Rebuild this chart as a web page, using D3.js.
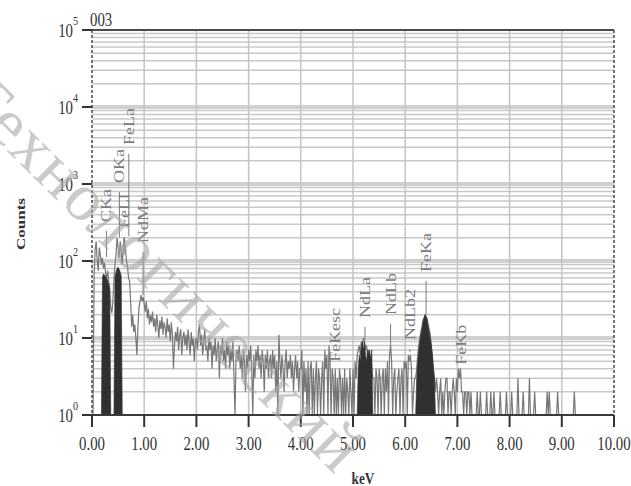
<!DOCTYPE html>
<html>
<head>
<meta charset="utf-8">
<script src="https://cdn.jsdelivr.net/npm/d3@7"></script>
<style>
  body { margin: 0; background: #fff; }
  svg text { font-family: "Liberation Serif", "Times New Roman", serif; }
</style>
</head>
<body>
<script>
// EDS spectrum, sample 003 -- counts per 0.02 keV channel, starting at 0 keV
var channelWidth = 0.02;
var spectrumCounts = [
  0,0,60,140,180,100,75,150,120,90,
  110,80,95,70,60,75,55,40,25,21,
  30,55,90,120,200,150,110,180,130,90,
  160,200,150,100,85,60,55,30,14,20,
  12,15,10,6,14,25,30,36,30,34,
  28,22,30,18,24,15,20,16,22,14,
  18,12,20,15,10,17,13,19,11,16,
  14,10,18,12,15,9,16,11,4,8,
  12,9,14,7,11,13,6,10,12,8,
  11,7,13,9,6,12,8,10,5,9,
  10,7,12,15,8,11,6,9,13,7,
  8,5,10,7,9,4,8,6,10,5,
  7,9,3,8,6,10,5,7,4,9,
  6,8,4,7,5,9,3,1,6,7,
  5,8,4,6,3,7,5,2,6,4,
  7,5,8,4,1,6,3,7,5,8,
  4,6,3,7,5,2,6,4,7,3,
  5,6,3,7,4,6,2,5,1,11,
  5,3,6,4,2,5,7,3,5,4,
  6,3,5,2,4,6,3,5,2,4,
  4,7,1,5,2,4,1,5,1,4,
  5,1,4,1,3,5,1,4,3,1,
  3,5,1,7,4,6,1,8,5,1,
  4,3,1,4,1,3,1,4,3,1,
  3,1,4,1,3,2,1,4,2,1,
  4,1,5,3,6,7,8,6,9,8,
  10,9,7,8,6,7,5,6,4,3,
  3,1,4,3,1,4,3,1,3,4,
  1,4,2,5,1,6,8,5,1,3,
  4,1,2,3,4,1,3,4,1,5,
  4,5,1,6,5,6,4,1,2,3,
  3,4,6,8,10,12,14,17,18,20,
  19,18,15,13,11,8,6,4,3,2,
  3,2,1,2,3,1,2,1,2,3,
  3,1,2,2,1,2,3,2,1,3,
  2,4,3,4,2,2,1,2,2,1,
  2,2,1,2,1,1,1,1,1,2,
  1,1,2,1,1,1,1,1,2,1,
  1,1,2,1,1,2,1,1,1,1,
  1,2,1,1,1,1,1,2,1,1,
  1,1,2,1,1,1,1,1,3,1,
  1,1,1,2,1,1,1,1,1,3,
  1,1,1,1,2,1,1,1,1,1,
  1,1,1,1,1,1,2,1,2,1,
  1,1,1,1,1,1,2,1,1,1,
  1,1,1,1,1,1,1,1,1,1,
  1,1,2,1,1
];

// identified peaks (filled dark)
var peakNames = ["CKa", "OKa", "NdLa", "FeKa"];
var peakStarts = [0.18, 0.42, 5.08, 6.20];
var peakCounts = [
  [1, 62, 68, 66, 63, 60, 56, 50, 44, 1],
  [1, 62, 72, 80, 83, 78, 72, 64, 1],
  [1, 4, 6, 5, 8, 9, 7, 9, 6, 5, 7, 6, 7, 5, 7, 1],
  [1, 3, 5, 7, 9, 11, 13, 16, 18, 20, 19, 17, 14, 12, 10, 8, 6, 4, 3, 1]
];

// line markers: name, energy (keV), count at label foot, count at marker end
var lineNames    = ["CKa", "OKa", "FeLa", "FeLl", "NdMa", "FeKesc", "NdLa", "NdLb", "NdLb2", "FeKa", "FeKb"];
var lineEnergies = [0.277, 0.525, 0.705, 0.615, 0.978, 4.66, 5.23, 5.72, 6.09, 6.40, 7.06];
var lineFoot     = [321, 1030, 3220, 268, 171, 4.9, 18.2, 19.9, 9.4, 72, 4.5];
var lineEnd      = [112, 204, 210, 120, 36, 3.8, 9.4, 7.0, 6.6, 19.9, 3.6];

var xTicks = [0, 1, 2, 3, 4, 5, 6, 7, 8, 9, 10];
var yDecades = [0, 1, 2, 3, 4, 5];
var sampleName = "003";

var width = 631, height = 486;
var mLeft = 92, mRight = 614, mTop = 30, mBottom = 415;
var sx = 0.78; // condensed type

var x = d3.scaleLinear().domain([0, 10]).range([mLeft, mRight]);
var y = d3.scaleLog().domain([1, 1e5]).range([mBottom, mTop]);

var svg = d3.select("body").append("svg")
  .attr("width", width).attr("height", height);

// horizontal grid: minor lines then decade bands
var minor = [];
yDecades.slice(0, 5).forEach(function(d) {
  for (var m = 2; m <= 9; m++) minor.push(m * Math.pow(10, d));
});
svg.append("g").selectAll("line").data(minor).enter().append("line")
  .attr("x1", mLeft).attr("x2", mRight)
  .attr("y1", function(d) { return y(d); }).attr("y2", function(d) { return y(d); })
  .attr("stroke", "#c8c8c8").attr("stroke-width", 1.5);
svg.append("g").selectAll("line").data(yDecades.slice(1, 5)).enter().append("line")
  .attr("x1", mLeft).attr("x2", mRight)
  .attr("y1", function(d) { return y(Math.pow(10, d)); }).attr("y2", function(d) { return y(Math.pow(10, d)); })
  .attr("stroke", "#d0d0d0").attr("stroke-width", 4);

// vertical grid
svg.append("g").selectAll("line").data(xTicks.slice(1, 10)).enter().append("line")
  .attr("x1", function(d) { return x(d); }).attr("x2", function(d) { return x(d); })
  .attr("y1", mTop).attr("y2", mBottom)
  .attr("stroke", "#c4c4c4").attr("stroke-width", 1.5);

// spectrum trace
var trace = d3.line()
  .x(function(d, i) { return x(i * channelWidth); })
  .y(function(d) { return y(Math.max(1, d)); });
svg.append("path").datum(spectrumCounts)
  .attr("d", trace)
  .attr("fill", "none").attr("stroke", "#777").attr("stroke-width", 1.2);

// filled peaks
peakNames.forEach(function(name, k) {
  var area = d3.area()
    .x(function(d, i) { return x(peakStarts[k] + i * channelWidth); })
    .y0(y(1))
    .y1(function(d) { return y(Math.max(1, d)); });
  svg.append("path").datum(peakCounts[k])
    .attr("class", "peak " + name)
    .attr("d", area).attr("fill", "#303030").attr("stroke", "#303030").attr("stroke-width", 0.6);
});

// line markers and labels
lineNames.forEach(function(name, i) {
  var px = x(lineEnergies[i]);
  svg.append("line")
    .attr("x1", px).attr("x2", px)
    .attr("y1", y(lineFoot[i]) + 9).attr("y2", y(lineEnd[i]))
    .attr("stroke", "#7a7a7a").attr("stroke-width", 1);
  svg.append("text")
    .attr("transform", "translate(" + (px + 5) + "," + y(lineFoot[i]) + ") scale(" + sx + ",1) rotate(-90)")
    .attr("font-size", 18).attr("fill", "#7c7c7c")
    .text(name);
});

// frame
svg.append("line").attr("x1", mLeft).attr("x2", mRight).attr("y1", mTop).attr("y2", mTop)
  .attr("stroke", "#4a4a4a").attr("stroke-width", 2);
svg.append("line").attr("x1", mLeft).attr("x2", mLeft).attr("y1", mTop).attr("y2", mBottom)
  .attr("stroke", "#4a4a4a").attr("stroke-width", 1.5).attr("stroke-dasharray", "3,2");
svg.append("line").attr("x1", mRight).attr("x2", mRight).attr("y1", mTop).attr("y2", mBottom)
  .attr("stroke", "#4a4a4a").attr("stroke-width", 1.5).attr("stroke-dasharray", "3,2");
svg.append("line").attr("x1", mLeft).attr("x2", mRight).attr("y1", mBottom).attr("y2", mBottom)
  .attr("stroke", "#3a3a3a").attr("stroke-width", 2);

// y ticks + labels
var yt = svg.append("g");
yDecades.forEach(function(d) {
  var py = y(Math.pow(10, d));
  yt.append("line").attr("x1", mLeft - 10).attr("x2", mLeft).attr("y1", py).attr("y2", py)
    .attr("stroke", "#333").attr("stroke-width", 2);
  var t = yt.append("text")
    .attr("transform", "translate(78," + (py + 7) + ") scale(" + sx + ",1)")
    .attr("text-anchor", "end").attr("font-size", 19).attr("fill", "#333");
  t.append("tspan").text("10");
  t.append("tspan").attr("dy", -12).attr("font-size", 13).text(d);
});

// x ticks + labels
var xt = svg.append("g");
xTicks.forEach(function(d) {
  var px = x(d);
  xt.append("line").attr("x1", px).attr("x2", px).attr("y1", mBottom).attr("y2", mBottom + 12)
    .attr("stroke", "#333").attr("stroke-width", 2);
  xt.append("text")
    .attr("transform", "translate(" + px + ",450) scale(" + sx + ",1)")
    .attr("text-anchor", "middle").attr("font-size", 19).attr("fill", "#333")
    .text(d3.format(".2f")(d));
});

// titles
svg.append("text").attr("transform", "translate(90,26) scale(" + sx + ",1)")
  .attr("font-size", 19).attr("fill", "#333").text(sampleName);
svg.append("text").attr("transform", "translate(25,224) scale(" + sx + ",1) rotate(-90)")
  .attr("text-anchor", "middle").attr("font-size", 17).attr("font-weight", "bold").attr("fill", "#333")
  .text("Counts");
svg.append("text").attr("transform", "translate(363,484) scale(" + sx + ",1)")
  .attr("text-anchor", "middle").attr("font-size", 17).attr("font-weight", "bold").attr("fill", "#333")
  .text("keV");

// watermark
svg.append("text")
  .attr("transform", "translate(-45,100) rotate(44.6)")
  .attr("font-family", "DejaVu Sans").attr("font-size", 68).attr("letter-spacing", 2)
  .attr("fill", "#a8a8a8").attr("opacity", 0.6)
  .text("Технологический");
</script>
</body>
</html>
